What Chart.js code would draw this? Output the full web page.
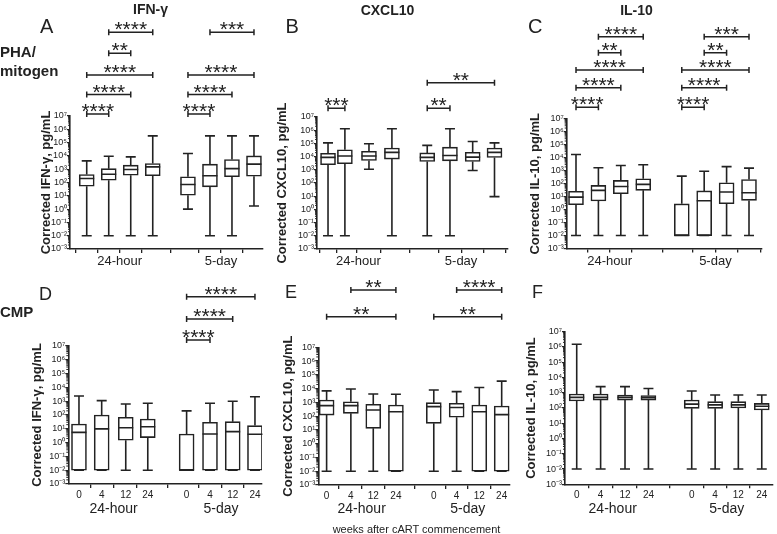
<!DOCTYPE html>
<html><head><meta charset="utf-8">
<script src="https://cdn.jsdelivr.net/npm/chart.js@4.4.0/dist/chart.umd.min.js"></script>
<style>
html,body{margin:0;padding:0;background:#fff;}
#wrap{position:relative;width:777px;height:534px;overflow:hidden;font-family:"Liberation Sans",Arial,sans-serif;color:#222;}
canvas{position:absolute;left:0;top:0;}
.t{position:absolute;white-space:nowrap;line-height:1;}
.b{font-weight:bold;}
.c{transform:translateX(-50%);}
</style></head><body><div id="wrap">
<canvas id="cA" width="777" height="534"></canvas>
<canvas id="cB" width="777" height="534"></canvas>
<canvas id="cC" width="777" height="534"></canvas>
<canvas id="cD" width="777" height="534"></canvas>
<canvas id="cE" width="777" height="534"></canvas>
<canvas id="cF" width="777" height="534"></canvas>
<div class="t b c" style="font-size:14px;left:150.5px;top:1.7px;">IFN-γ</div>
<div class="t b c" style="font-size:14px;left:387.5px;top:3.2px;">CXCL10</div>
<div class="t b c" style="font-size:14px;left:636.5px;top:3.2px;">IL-10</div>
<div class="t" style="font-size:20px;left:40px;top:16px;">A</div>
<div class="t" style="font-size:20px;left:285.5px;top:16px;">B</div>
<div class="t" style="font-size:20px;left:528px;top:16px;">C</div>
<div class="t" style="font-size:18px;left:39px;top:284.8px;">D</div>
<div class="t" style="font-size:18px;left:285px;top:282.8px;">E</div>
<div class="t" style="font-size:18px;left:532px;top:282.8px;">F</div>
<div class="t b" style="font-size:15px;left:0px;top:44.3px;">PHA/</div>
<div class="t b" style="font-size:15px;left:0px;top:63.3px;">mitogen</div>
<div class="t b" style="font-size:15px;left:0px;top:304.3px;">CMP</div>
<div class="t c" style="font-size:11px;left:416.5px;top:523.7px;">weeks after cART commencement</div>
</div>
<script>
// ---------- shared categories / ticks ----------
const weekLabels = ['0','4','12','24','0','4','12','24'];
const groupLabels = ['24-hour','5-day'];
const yDecades = [1e-3,1e-2,1e-1,1e0,1e1,1e2,1e3,1e4,1e5,1e6,1e7];

// ---------- A: IFN-γ, PHA/mitogen ----------
const ifnPhaMax = [4.2e3, 9.4e3, 8.5e3, 3.2e5, 1.5e4, 3.2e5, 3.2e5, 3.2e5];
const ifnPhaQ3  = [400, 1.1e3, 2.0e3, 2.7e3, 270, 2.4e3, 5.3e3, 1.0e4];
const ifnPhaMed = [200, 420, 940, 1.5e3, 71, 320, 1.1e3, 2.4e3];
const ifnPhaQ1  = [53, 150, 350, 320, 11, 47, 270, 300];
const ifnPhaMin = [0.01, 0.01, 0.01, 0.01, 1.0, 0.01, 0.01, 1.7];
const ifnPhaSig = [[0,1,1,'****'],[0,2,2,'****'],[0,3,3,'****'],[1,2,4,'**'],[1,3,5,'****'],
                   [4,5,1,'****'],[4,6,2,'****'],[4,7,3,'****'],[5,7,5,'***']];

// ---------- B: CXCL10, PHA/mitogen ----------
const cxPhaMax = [1.1e5, 1.3e6, 9.3e4, 1.3e6, 7.1e4, 1.3e6, 1.4e5, 1.1e5];
const cxPhaQ3  = [1.8e4, 3.3e4, 2.5e4, 4.5e4, 1.9e4, 5.2e4, 2.1e4, 4.5e4];
const cxPhaMed = [8.7e3, 1.1e4, 1.1e4, 2.1e4, 8.7e3, 1.2e4, 9.1e3, 2.1e4];
const cxPhaQ1  = [2.4e3, 2.9e3, 5.1e3, 6.5e3, 4.3e3, 4.8e3, 4.3e3, 8.7e3];
const cxPhaMin = [0.01, 0.01, 1.1e3, 0.01, 0.01, 0.01, 890, 9.3];
const cxPhaSig = [[0,1,1,'***'],[4,5,1,'**'],[4,7,2,'**']];

// ---------- C: IL-10, PHA/mitogen ----------
const il10PhaMax = [1.8e4, 1.7e3, 2.6e3, 2.9e3, 390, 930, 2.1e3, 1.6e3];
const il10PhaQ3  = [26, 74, 182, 240, 2.8, 28, 120, 214];
const il10PhaMed = [9.3, 31, 62, 89, 0.01, 4.9, 23, 20];
const il10PhaQ1  = [2.4, 4.7, 17, 31, 0.01, 0.01, 2.9, 5.2];
const il10PhaMin = [0.01, 0.01, 0.01, 0.01, 0.01, 0.01, 0.01, 0.01];
const il10PhaSig = [[0,1,1,'****'],[0,2,2,'****'],[0,3,3,'****'],[1,2,4,'**'],[1,3,5,'****'],
                    [4,5,1,'****'],[4,6,2,'****'],[4,7,3,'****'],[5,6,4,'**'],[5,7,5,'***']];

// ---------- D: IFN-γ, CMP ----------
const ifnCmpMax = [2.4e3, 1.1e3, 630, 710, 200, 710, 1.0e3, 2.1e3];
const ifnCmpQ3  = [22, 100, 68, 51, 4.2, 30, 33, 17];
const ifnCmpMed = [5.5, 9.8, 12, 14, 0.01, 4.2, 6.2, 4.0];
const ifnCmpQ1  = [0.01, 0.01, 1.5, 2.3, 0.01, 0.01, 0.01, 0.01];
const ifnCmpMin = [0.01, 0.01, 0.01, 0.01, 0.01, 0.01, 0.01, 0.01];
const ifnCmpSig = [[4,5,1,'****'],[4,6,2,'****'],[4,7,3,'****']];

// ---------- E: CXCL10, CMP ----------
const cxCmpMax = [6.8e3, 9.3e3, 4.1e3, 3.9e3, 7.9e3, 6.0e3, 1.2e4, 3.5e4];
const cxCmpQ3  = [1.5e3, 1.1e3, 720, 650, 950, 850, 650, 550];
const cxCmpMed = [580, 580, 280, 210, 490, 420, 210, 130];
const cxCmpQ1  = [120, 160, 13, 0.01, 30, 83, 0.01, 0.01];
const cxCmpMin = [0.01, 0.01, 0.01, 0.01, 0.01, 0.01, 0.01, 0.01];
const cxCmpSig = [[0,3,1,'**'],[1,3,2,'**'],[4,7,1,'**'],[5,7,2,'****']];

// ---------- F: IL-10, CMP ----------
const il10CmpMax = [1.5e6, 2.5e3, 2.5e3, 1.9e3, 1.3e3, 710, 710, 710];
const il10CmpQ3  = [830, 830, 710, 650, 330, 260, 260, 200];
const il10CmpMed = [500, 500, 500, 480, 180, 160, 160, 130];
const il10CmpQ1  = [290, 330, 330, 330, 95, 95, 100, 74];
const il10CmpMin = [0.01, 0.01, 0.01, 0.01, 0.01, 0.01, 0.01, 0.01];
const il10CmpSig = [];

// ---------- layout (positions / sizes only) ----------
const INK = '#222';
Chart.defaults.font.family = "'Liberation Sans', Arial, sans-serif";
Chart.defaults.color = INK;
const YW = 50, XH = 30;
const SUP = {'0':'⁰','1':'¹','2':'²','3':'³','4':'⁴','5':'⁵','6':'⁶','7':'⁷','8':'⁸','9':'⁹','-':'⁻'};
const supStr = s => String(s).split('').map(c => SUP[c]).join('');

const boxPlugin = {
  id: 'boxes',
  afterDatasetsDraw(chart) {
    const P = chart.options.plugins.boxes;
    const xs = chart.scales.x, ys = chart.scales.y, ctx = chart.ctx, ca = chart.chartArea;
    ctx.save();
    ctx.strokeStyle = INK; ctx.lineWidth = 1.6; ctx.lineCap = 'butt';
    P.pos.forEach((p, i) => {
      const x = xs.getPixelForValue(p);
      const yHi = ys.getPixelForValue(P.max[i]), yQ3 = ys.getPixelForValue(P.q3[i]);
      const yMed = ys.getPixelForValue(P.med[i]);
      const yQ1 = ys.getPixelForValue(P.q1[i]), yLo = ys.getPixelForValue(P.min[i]);
      ctx.beginPath();
      ctx.moveTo(x, yQ3); ctx.lineTo(x, yHi);
      ctx.moveTo(x, yQ1); ctx.lineTo(x, yLo);
      ctx.moveTo(x - 5, yHi); ctx.lineTo(x + 5, yHi);
      ctx.moveTo(x - 5, yLo); ctx.lineTo(x + 5, yLo);
      ctx.moveTo(x - 7.5, yMed); ctx.lineTo(x + 7.5, yMed);
      ctx.stroke();
    });
    // minor log ticks on y axis
    ctx.lineWidth = 1;
    ctx.beginPath();
    for (let d = -3; d < 7; d++) {
      for (let k = 2; k <= 9; k++) {
        const y = ys.getPixelForValue(k * Math.pow(10, d));
        ctx.moveTo(ca.left - 2, y); ctx.lineTo(ca.left, y);
      }
    }
    ctx.stroke();
    ctx.restore();
  },
  afterDraw(chart) {
    const P = chart.options.plugins.boxes;
    const xs = chart.scales.x, ctx = chart.ctx, ca = chart.chartArea;
    ctx.save();
    ctx.fillStyle = INK; ctx.strokeStyle = INK;
    // group labels
    ctx.font = P.groupFont + "px 'Liberation Sans', Arial, sans-serif";
    ctx.textAlign = 'center'; ctx.textBaseline = 'alphabetic';
    groupLabels.forEach((g, gi) => {
      const idx = [gi * 4, gi * 4 + 1, gi * 4 + 2, gi * 4 + 3];
      const xc = idx.reduce((s, j) => s + xs.getPixelForValue(P.pos[j]), 0) / 4;
      ctx.fillText(g, xc, ca.bottom + P.groupOff);
    });
    // significance brackets
    ctx.lineWidth = 1.5;
    ctx.font = "21px 'Liberation Sans', Arial, sans-serif";
    P.sig.forEach(([a, b, tier, lab]) => {
      const y = ca.top - P.tiers[tier - 1];
      const x1 = xs.getPixelForValue(P.pos[a]), x2 = xs.getPixelForValue(P.pos[b]);
      ctx.beginPath();
      ctx.moveTo(x1, y); ctx.lineTo(x2, y);
      ctx.moveTo(x1, y - 3); ctx.lineTo(x1, y + 3);
      ctx.moveTo(x2, y - 3); ctx.lineTo(x2, y + 3);
      ctx.stroke();
      ctx.fillText(lab, (x1 + x2) / 2, y + 4);
    });
    ctx.restore();
  }
};

function makePanel(id, P) {
  new Chart(document.getElementById(id), {
    type: 'bar',
    data: {
      datasets: [{
        data: P.pos.map((x, i) => ({ x: x, y: [P.q1[i], P.q3[i]] })),
        backgroundColor: '#fff', borderColor: INK, borderWidth: 1.6,
        borderSkipped: false, barThickness: 15
      }]
    },
    plugins: [boxPlugin],
    options: {
      responsive: false, animation: false, devicePixelRatio: 1, events: [],
      layout: { padding: { left: P.L - YW, top: P.T, right: 777 - P.R, bottom: 534 - P.B - XH } },
      plugins: { legend: { display: false }, tooltip: { enabled: false }, boxes: P },
      scales: {
        x: {
          type: 'linear', min: P.xmin, max: P.xmax, offset: false,
          afterBuildTicks: s => { s.ticks = P.pos.map(v => ({ value: v })); },
          afterFit: s => { s.height = XH; },
          grid: { display: true, drawOnChartArea: false, drawTicks: true, tickLength: 4, color: INK, lineWidth: 1.3 },
          border: { display: true, color: INK, width: 1.6 },
          ticks: {
            display: P.showWeeks, autoSkip: false, maxRotation: 0, padding: 1,
            font: { size: 10 }, color: INK,
            callback: (v, i) => weekLabels[i]
          }
        },
        y: {
          type: 'logarithmic', min: 1e-3, max: 1e7,
          afterBuildTicks: s => { s.ticks = yDecades.map(v => ({ value: v })); },
          afterFit: s => { s.width = YW; },
          grid: { display: true, drawOnChartArea: false, drawTicks: true, tickLength: 3, color: INK, lineWidth: 1.2 },
          border: { display: true, color: INK, width: 1.6 },
          ticks: {
            autoSkip: false, padding: 0, font: { size: 9 }, color: INK,
            callback: v => '10' + supStr(Math.round(Math.log10(v)))
          },
          title: {
            display: true, text: P.title, color: INK,
            font: { size: 13, weight: 'bold' }, padding: { top: P.titlePad, bottom: 0 }
          }
        }
      }
    }
  });
}

makePanel('cA', { title: 'Corrected IFN-γ, pg/mL', max: ifnPhaMax, q3: ifnPhaQ3, med: ifnPhaMed, q1: ifnPhaQ1, min: ifnPhaMin, sig: ifnPhaSig,
  pos: [0,1,2,3,4.6,5.6,6.6,7.6], xmin: -0.76, xmax: 8.01, L: 70, R: 263, T: 116, B: 249,
  tiers: [2, 21.5, 41, 62.7, 83.7], titlePad: 18.7, showWeeks: false, groupFont: 13, groupOff: 16 });
makePanel('cB', { title: 'Corrected CXCL10, pg/mL', max: cxPhaMax, q3: cxPhaQ3, med: cxPhaMed, q1: cxPhaQ1, min: cxPhaMin, sig: cxPhaSig,
  pos: [0.27,1.02,2.09,3.11,4.68,5.69,6.7,7.67], xmin: -0.22, xmax: 8.27, L: 317, R: 508, T: 117, B: 249,
  tiers: [8.7, 34.3], titlePad: 8, showWeeks: false, groupFont: 13, groupOff: 16 });
makePanel('cC', { title: 'Corrected IL-10, pg/mL', max: il10PhaMax, q3: il10PhaQ3, med: il10PhaMed, q1: il10PhaQ1, min: il10PhaMin, sig: il10PhaSig,
  pos: [0,1,2,3,4.72,5.72,6.72,7.72], xmin: -0.415, xmax: 8.3, L: 566.7, R: 762, T: 119, B: 248.5,
  tiers: [11.7, 31.3, 49, 66.3, 82.3], titlePad: 10.5, showWeeks: false, groupFont: 13, groupOff: 16 });
makePanel('cD', { title: 'Corrected IFN-γ, pg/mL', max: ifnCmpMax, q3: ifnCmpQ3, med: ifnCmpMed, q1: ifnCmpQ1, min: ifnCmpMin, sig: ifnCmpSig,
  pos: [0,1,2.06,3.03,4.74,5.77,6.77,7.75], xmin: -0.47, xmax: 8.06, L: 68.3, R: 262, T: 346, B: 484,
  tiers: [6, 27, 49.3], titlePad: 11.4, showWeeks: true, groupFont: 14, groupOff: 29 });
makePanel('cE', { title: 'Corrected CXCL10, pg/mL', max: cxCmpMax, q3: cxCmpQ3, med: cxCmpMed, q1: cxCmpQ1, min: cxCmpMin, sig: cxCmpSig,
  pos: [0,1.05,2.02,3.0,4.64,5.63,6.61,7.58], xmin: -0.36, xmax: 7.94, L: 318.3, R: 510, T: 347.3, B: 485,
  tiers: [30.6, 57.3], titlePad: 11.9, showWeeks: true, groupFont: 14, groupOff: 28 });
makePanel('cF', { title: 'Corrected IL-10, pg/mL', max: il10CmpMax, q3: il10CmpQ3, med: il10CmpMed, q1: il10CmpQ1, min: il10CmpMin, sig: il10CmpSig,
  pos: [0,1,2.02,3.0,4.81,5.79,6.76,7.74], xmin: -0.49, xmax: 8.21, L: 565, R: 773, T: 331.7, B: 484.3,
  tiers: [], titlePad: 8.2, showWeeks: true, groupFont: 14, groupOff: 29 });
</script>
</body></html>
